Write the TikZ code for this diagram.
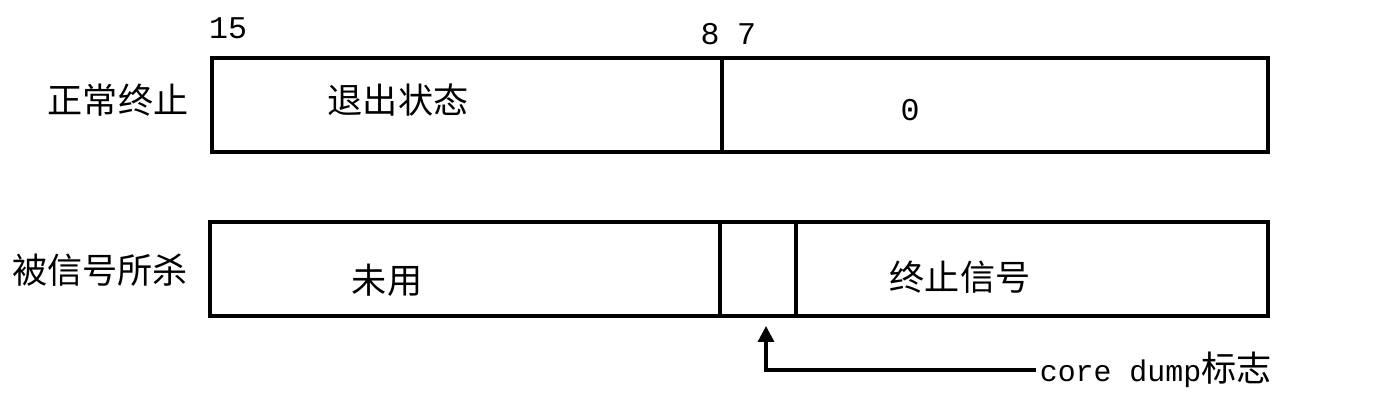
\documentclass[tikz,border=0pt]{standalone}
\usepackage{fontspec}
\setmonofont{Liberation Mono}
\newfontfamily\cjk{Noto Sans CJK SC}
\usetikzlibrary{positioning, arrows.meta}

\begin{document}
\begin{tikzpicture}[x=0.02cm, y=-0.02cm,
    field/.style={rectangle, draw, line width=1.8pt, inner sep=0pt, minimum height=1.88cm},
    tag/.style={font=\cjk\fontsize{20}{24}\selectfont, inner sep=0pt},
    bit/.style={font=\ttfamily\fontsize{18}{20}\selectfont, inner sep=0pt}]
    \useasboundingbox (0,0) rectangle (1398,405);
    % normal exit
    \node[field, minimum width=10.2cm] (1) at (467,105) {};
    \node[field, minimum width=10.92cm] (2) at (995,105) {};
    % killed by signal
    \node[field, minimum width=10.2cm] (3) at (465,269) {};
    \node[field, minimum width=1.52cm] (4) at (758,269) {};
    \node[field, minimum width=9.44cm] (5) at (1032,269) {};
    % bit numbers
    \node[bit] (b15) at (228,28) {15};
    \node[bit] (b8) at (710,34) {8};
    \node[bit, right=0.34cm of b8] (b7) {7};
    % texts
    \node[tag] (normal) at (118,100) {正常终止};
    \node[tag] (killed) at (100,270) {被信号所杀};
    \node[tag] (status) at (398,100) {退出状态};
    \node[bit] (zero) at (910,110) {0};
    \node[tag] (unused) at (387,280) {未用};
    \node[tag] (signal) at (960,277) {终止信号};
    \node[anchor=west, inner sep=2pt] (cd) at (1036,370)
        {\ttfamily\fontsize{17}{20}\selectfont core dump\cjk\fontsize{20}{24}\selectfont 标志};
    \coordinate (tip) at (766,326);
    \draw[line width=1.9pt, -{Triangle[length=0.32cm, width=0.32cm]}] (cd.west) -| (tip);
\end{tikzpicture}
\end{document}
